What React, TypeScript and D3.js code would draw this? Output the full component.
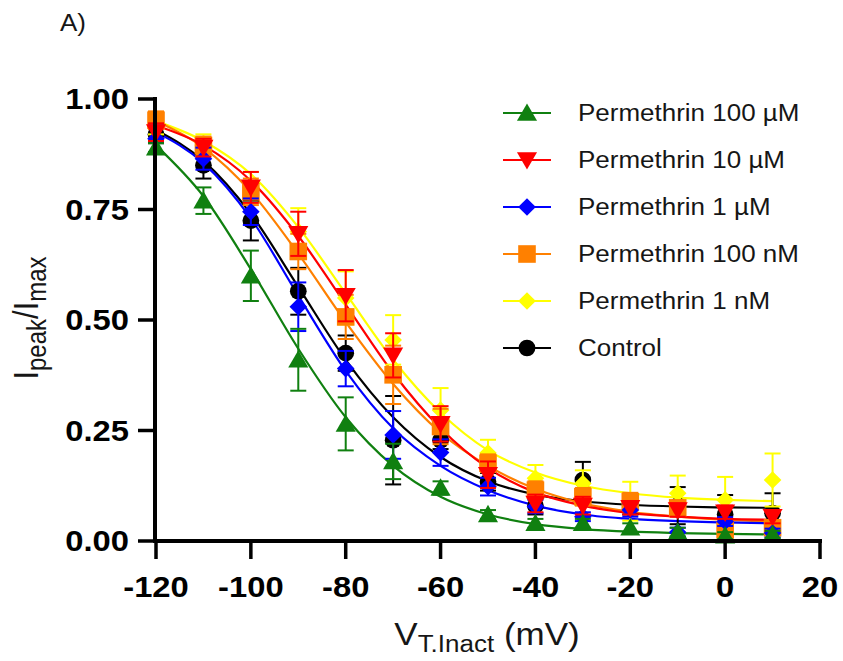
import React from "react";
import * as d3 from "d3";

const voltages = [-120, -110, -100, -90, -80, -70, -60, -50, -40, -30, -20, -10, 0, 10];

const seriesNames = [
  "Permethrin 100 µM",
  "Permethrin 10 µM",
  "Permethrin 1 µM",
  "Permethrin 100 nM",
  "Permethrin 1 nM",
  "Control",
];
const seriesColors = ["#108010", "#ff0000", "#0000ff", "#ff8000", "#ffff00", "#000000"];
const seriesSymbols = ["triangleUp", "triangleDown", "diamond", "square", "diamond", "circle"];

// mean values
const mean100uM = [0.89, 0.77, 0.6, 0.41, 0.265, 0.18, 0.12, 0.06, 0.04, 0.04, 0.03, 0.02, 0.012, 0.015];
const mean10uM = [0.925, 0.89, 0.8, 0.695, 0.555, 0.42, 0.265, 0.15, 0.085, 0.08, 0.075, 0.07, 0.065, 0.055];
const mean1uM = [0.91, 0.865, 0.745, 0.53, 0.39, 0.24, 0.2, 0.123, 0.078, 0.055, 0.07, 0.02, 0.044, 0.018];
const mean100nM = [0.952, 0.895, 0.79, 0.655, 0.507, 0.376, 0.259, 0.176, 0.115, 0.1, 0.089, 0.075, 0.025, 0.03];
const mean1nM = [0.94, 0.895, 0.8, 0.7, 0.55, 0.455, 0.296, 0.199, 0.142, 0.13, 0.09, 0.108, 0.093, 0.138];
const meanControl = [0.92, 0.85, 0.725, 0.565, 0.425, 0.228, 0.228, 0.134, 0.08, 0.138, 0.08, 0.08, 0.06, 0.063];

// SEM
const err100uM = [0.01, 0.03, 0.057, 0.07, 0.06, 0.04, 0.015, 0.01, 0.01, 0.01, 0.01, 0.01, 0.008, 0.008];
const err10uM = [0.02, 0.02, 0.035, 0.05, 0.058, 0.05, 0.04, 0.03, 0.02, 0.02, 0.015, 0.015, 0.015, 0.015];
const err1uM = [0.03, 0.025, 0.03, 0.055, 0.04, 0.054, 0.03, 0.02, 0.015, 0.01, 0.015, 0.01, 0.01, 0.01];
const err100nM = [0.02, 0.02, 0.03, 0.04, 0.05, 0.066, 0.04, 0.02, 0.02, 0.02, 0.02, 0.015, 0.01, 0.01];
const err1nM = [0.02, 0.025, 0.035, 0.053, 0.06, 0.056, 0.05, 0.03, 0.03, 0.03, 0.044, 0.04, 0.052, 0.06];
const errControl = [0.02, 0.03, 0.045, 0.053, 0.04, 0.1, 0.02, 0.02, 0.02, 0.041, 0.02, 0.042, 0.044, 0.045];

// fitted curve values read at each voltage
const fit100uM = [0.895, 0.78, 0.615, 0.435, 0.28, 0.17, 0.1, 0.06, 0.038, 0.027, 0.021, 0.018, 0.016, 0.015];
const fit10uM = [0.94, 0.895, 0.815, 0.69, 0.535, 0.38, 0.255, 0.165, 0.11, 0.08, 0.063, 0.055, 0.05, 0.048];
const fit1uM = [0.925, 0.855, 0.73, 0.555, 0.385, 0.255, 0.17, 0.115, 0.08, 0.06, 0.05, 0.045, 0.042, 0.04];
const fit100nM = [0.95, 0.89, 0.79, 0.65, 0.495, 0.355, 0.245, 0.17, 0.118, 0.085, 0.066, 0.055, 0.048, 0.045];
const fit1nM = [0.95, 0.905, 0.83, 0.71, 0.56, 0.41, 0.29, 0.205, 0.155, 0.125, 0.108, 0.098, 0.093, 0.09];
const fitControl = [0.93, 0.86, 0.74, 0.575, 0.41, 0.28, 0.19, 0.135, 0.105, 0.09, 0.082, 0.078, 0.076, 0.075];

const xTicks = [-120, -100, -80, -60, -40, -20, 0, 20];
const yTicks = [0, 0.25, 0.5, 0.75, 1.0];

const means = [mean100uM, mean10uM, mean1uM, mean100nM, mean1nM, meanControl];
const errs = [err100uM, err10uM, err1uM, err100nM, err1nM, errControl];
const fits = [fit100uM, fit10uM, fit1uM, fit100nM, fit1nM, fitControl];

const W = 843;
const H = 661;
const x = d3.scaleLinear().domain([-120, 20]).range([156, 820]);
const y = d3.scaleLinear().domain([0, 1]).range([541, 99]);

const FONT = "'Liberation Sans', Arial, sans-serif";
const SX = 1.13; // horizontal stretch of the text in the reference
const TXT = "#161616";

function symbolPath(kind: string): { d: string; rot: number } {
  switch (kind) {
    case "triangleUp":
      return { d: d3.symbol().type(d3.symbolTriangle).size(175)()!, rot: 0 };
    case "triangleDown":
      return { d: d3.symbol().type(d3.symbolTriangle).size(175)()!, rot: 180 };
    case "diamond":
      return { d: d3.symbol().type(d3.symbolSquare).size(155)()!, rot: 45 };
    case "square":
      return { d: d3.symbol().type(d3.symbolSquare).size(310)()!, rot: 0 };
    default:
      return { d: d3.symbol().type(d3.symbolCircle).size(220)()!, rot: 0 };
  }
}

function Marker({ kind, color, cx, cy }: { kind: string; color: string; cx: number; cy: number }) {
  const s = symbolPath(kind);
  const dy = kind === "triangleUp" ? 2 : kind === "triangleDown" ? -2 : 0;
  return <path d={s.d} fill={color} transform={`translate(${cx},${cy + dy}) rotate(${s.rot})`} />;
}

export default function App() {
  const line = d3
    .line<number>()
    .x((_, i) => x(voltages[i]))
    .y((d) => y(d))
    .curve(d3.curveMonotoneX);

  const order = [5, 4, 3, 2, 1, 0];
  const capW = 8;

  return (
    <svg
      width={W}
      height={H}
      style={{ position: "absolute", left: 0, top: 0, background: "#fff" }}
      fontFamily={FONT}
    >
      <rect x={0} y={0} width={W} height={H} fill="#fff" />
      <text transform={`translate(60,31) scale(${SX},1)`} fontSize={23} fill={TXT}>A)</text>

      {/* fit lines */}
      {order.map((si) => (
        <path key={"fit" + si} d={line(fits[si])!} fill="none" stroke={seriesColors[si]} strokeWidth={2.2} />
      ))}

      {/* error bars and markers */}
      {order.map((si) => (
        <g key={"s" + si}>
          {voltages.map((v, i) => {
            const cx = x(v);
            const m = means[si][i];
            const e = errs[si][i];
            const c = seriesColors[si];
            const lo = Math.max(0, m - e);
            return (
              <g key={i}>
                <line x1={cx} x2={cx} y1={y(m + e)} y2={y(lo)} stroke={c} strokeWidth={2} />
                <line x1={cx - capW} x2={cx + capW} y1={y(m + e)} y2={y(m + e)} stroke={c} strokeWidth={2} />
                <line x1={cx - capW} x2={cx + capW} y1={y(lo)} y2={y(lo)} stroke={c} strokeWidth={2} />
                <Marker kind={seriesSymbols[si]} color={c} cx={cx} cy={y(m)} />
              </g>
            );
          })}
        </g>
      ))}

      {/* axes */}
      <line x1={155} x2={155} y1={y(1) - 2} y2={y(0) + 2} stroke="#000" strokeWidth={4} />
      <line x1={153} x2={x(20) + 2} y1={y(0)} y2={y(0)} stroke="#000" strokeWidth={4} />
      {yTicks.map((t) => (
        <g key={"yt" + t}>
          <line x1={138} x2={155} y1={y(t)} y2={y(t)} stroke="#000" strokeWidth={3.5} />
          <text
            transform={`translate(129,${y(t)}) scale(${SX},1)`}
            dy="0.36em"
            textAnchor="end"
            fontSize={29}
            fontWeight="bold"
            fill="#000"
          >
            {d3.format(".2f")(t)}
          </text>
        </g>
      ))}
      {xTicks.map((t) => (
        <g key={"xt" + t}>
          <line x1={x(t)} x2={x(t)} y1={y(0)} y2={y(0) + 18} stroke="#000" strokeWidth={3.5} />
          <text
            transform={`translate(${x(t)},597) scale(${SX},1)`}
            textAnchor="middle"
            fontSize={29}
            fontWeight="bold"
            fill="#000"
          >
            {t}
          </text>
        </g>
      ))}

      {/* axis titles */}
      <text transform={`translate(487,645) scale(${SX},1)`} textAnchor="middle" fontSize={31} fill={TXT}>
        V<tspan fontSize={23} dy={7}>T.Inact</tspan>
        <tspan dy={-7}> (mV)</tspan>
      </text>
      <text
        transform={`translate(38,318) rotate(-90) scale(1,${SX})`}
        textAnchor="middle"
        fontSize={31}
        fill={TXT}
      >
        I<tspan fontSize={24} dy={7}>peak</tspan>
        <tspan dy={-7}>/I</tspan>
        <tspan fontSize={24} dy={7}>max</tspan>
      </text>

      {/* legend */}
      {seriesNames.map((name, i) => {
        const ly = 113 + i * 47;
        return (
          <g key={"lg" + i}>
            <line x1={503} x2={551} y1={ly} y2={ly} stroke={seriesColors[i]} strokeWidth={2.2} />
            <Marker kind={seriesSymbols[i]} color={seriesColors[i]} cx={527} cy={ly} />
            <text transform={`translate(578,${ly}) scale(${SX},1)`} dy="0.36em" fontSize={23} fill={TXT}>
              {name}
            </text>
          </g>
        );
      })}
    </svg>
  );
}
